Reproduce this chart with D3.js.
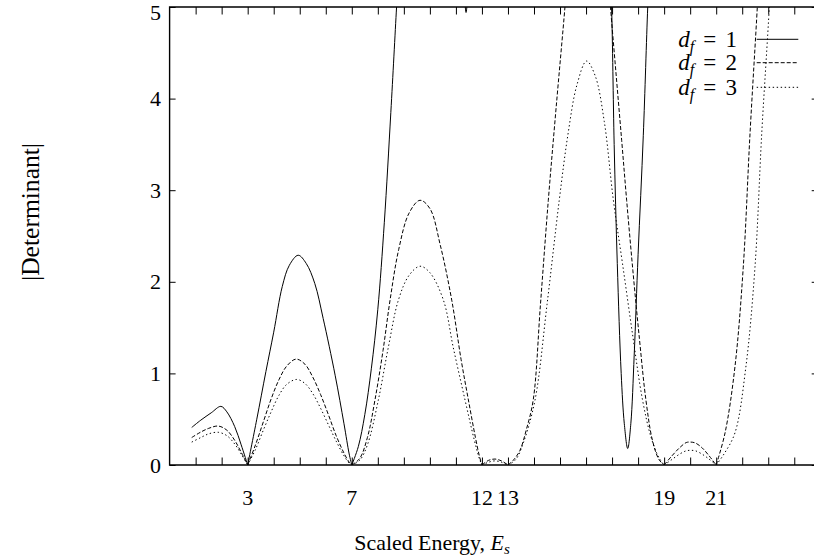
<!DOCTYPE html>
<html><head><meta charset="utf-8">
<script src="https://cdn.jsdelivr.net/npm/d3@7"></script>
<style>html,body{margin:0;padding:0;background:#fff;} svg{display:block;} text{font-family:"Liberation Serif","Times New Roman",serif;fill:#000;}</style>
</head><body>
<svg id="c" width="814" height="556"></svg>
<script>
// ---- data ----
const xTickLabels = [3, 7, 12, 13, 19, 21];
const xMinorTicks = d3.range(1, 25);
const yTicks = [0, 1, 2, 3, 4, 5];
const seriesNames = ["1", "2", "3"];

const df1E = [0.85,1.2,1.6,1.97,2.2,2.5,2.75,3.0,3.35,3.7,4.0,4.33,4.6,4.94,5.25,5.58,5.9,6.36,6.7,6.9,7.0,7.25,7.5,7.75,8.0,8.25,8.5,8.72,8.8,10,11.3,11.39,11.48,14,16.9,16.98,17.08,17.2,17.35,17.47,17.6,17.72,17.85,18.0,18.2,18.37,18.45];
const df1V = [0.41,0.49,0.57,0.64,0.58,0.42,0.22,0,0.5,1.02,1.45,1.95,2.18,2.29,2.2,1.98,1.6,0.98,0.45,0.12,0,0.2,0.55,1.05,1.7,2.65,3.85,5.0,5.4,null,5.25,4.94,5.25,null,5.5,5.0,3.5,2.2,1.0,0.45,0.18,0.45,1.2,2.3,3.6,5.0,5.5];

const df2E = [0.85,1.2,1.5,1.87,2.2,2.5,2.75,3.0,3.3,3.6,3.9,4.2,4.5,4.86,5.2,5.5,5.8,6.1,6.4,6.7,6.9,7.0,7.3,7.6,7.89,8.2,8.47,8.8,9.2,9.62,10.0,10.4,10.84,11.2,11.48,11.75,11.9,12.0,12.25,12.5,12.75,13.0,13.2,13.46,13.7,13.97,14.25,14.55,14.85,15.19,15.3,16,16.85,16.94,17.15,17.37,17.56,17.8,18.05,18.3,18.55,18.8,19.0,19.3,19.6,19.85,20.03,20.2,20.45,20.7,21.0,21.34,21.72,22.04,22.3,22.58,22.65];
const df2V = [0.30,0.36,0.40,0.425,0.38,0.27,0.14,0,0.22,0.47,0.72,0.93,1.08,1.156,1.1,0.96,0.77,0.55,0.32,0.13,0.03,0,0.07,0.3,0.71,1.25,1.8,2.35,2.75,2.89,2.8,2.4,1.8,1.15,0.71,0.3,0.1,0,0.05,0.065,0.045,0,0.05,0.16,0.38,0.71,1.76,2.89,3.9,5.0,5.4,null,5.4,5.0,4.28,3.54,2.89,2.12,1.38,0.71,0.27,0.06,0,0.1,0.19,0.245,0.25,0.24,0.19,0.11,0,0.35,1.07,2.16,3.62,5.0,5.4];

const df3E = [0.85,1.2,1.5,1.87,2.2,2.5,2.75,3.0,3.3,3.6,3.9,4.2,4.5,4.88,5.2,5.5,5.8,6.1,6.4,6.7,6.9,7.0,7.3,7.6,8.02,8.4,8.79,9.2,9.62,10.0,10.52,10.9,11.35,11.7,11.9,12.0,12.25,12.5,12.75,13.0,13.3,13.6,14.04,14.5,14.97,15.3,15.65,16.02,16.35,16.7,17.05,17.4,17.8,18.17,18.5,18.8,19.0,19.3,19.6,19.85,20.03,20.2,20.45,20.7,21.0,21.3,21.72,22.14,22.49,22.75,23.04,23.1];
const df3V = [0.25,0.30,0.34,0.357,0.32,0.23,0.12,0,0.17,0.38,0.58,0.76,0.88,0.934,0.89,0.78,0.62,0.44,0.26,0.1,0.02,0,0.05,0.22,0.71,1.28,1.8,2.07,2.17,2.1,1.8,1.28,0.71,0.28,0.07,0,0.03,0.045,0.03,0,0.06,0.25,0.71,1.75,2.89,3.6,4.15,4.41,4.25,3.75,2.89,2.2,1.4,0.71,0.3,0.08,0,0.06,0.12,0.155,0.16,0.155,0.12,0.07,0,0.12,0.35,1.07,2.16,3.62,5.0,5.4];

// ---- layout ----
const L = 169.6, R = 817.7, T = 7, B = 465;
const x = d3.scaleLinear().domain([0, 24.9]).range([L, R]);
const y = d3.scaleLinear().domain([0, 5]).range([B, T]);
const svg = d3.select("#c");
svg.append("rect").attr("width",814).attr("height",556).attr("fill","#fff");

svg.append("defs").append("clipPath").attr("id","clip")
  .append("rect").attr("x",L).attr("y",T).attr("width",R-L).attr("height",B-T);

function fitWidth(sel, w){
  const fs = +sel.attr("font-size");
  const bw = sel.node().getBBox().width;
  if (bw > 0) sel.attr("font-size", fs * w / bw);
}

// ticks: x bottom & top (inward)
const xb = d3.axisBottom(x).tickValues(xMinorTicks).tickSize(-7.5).tickFormat("");
const xt = d3.axisTop(x).tickValues(xMinorTicks).tickSize(-7.5).tickFormat("");
const yl = d3.axisLeft(y).tickValues(yTicks).tickSize(-6).tickFormat("");
const yr = d3.axisRight(y).tickValues(yTicks).tickSize(-6).tickFormat("");
[[xb,`translate(0,${B})`],[xt,`translate(0,${T})`],[yl,`translate(${L},0)`],[yr,`translate(${R},0)`]].forEach(([ax,tr])=>{
  const g = svg.append("g").attr("transform",tr).call(ax);
  g.select(".domain").remove();
  g.selectAll("line").attr("stroke","#000").attr("stroke-width",1);
});

// tick labels
svg.append("g").selectAll("text").data(xTickLabels).join("text")
  .attr("x", d=>x(d)).attr("y", 505).attr("text-anchor","middle")
  .attr("font-size", 22).text(d=>d);
svg.append("g").selectAll("text").data(yTicks).join("text")
  .attr("x", 161).attr("y", d=>Math.max(y(d)+7.5, 19.8)).attr("text-anchor","end")
  .attr("font-size", 22).text(d=>d);

// axis titles
const xt2 = svg.append("text").attr("x", 432).attr("y", 550).attr("text-anchor","middle").attr("font-size",21);
xt2.append("tspan").text("Scaled Energy, ");
xt2.append("tspan").attr("font-style","italic").text("E");
xt2.append("tspan").attr("font-style","italic").attr("font-size",15).attr("dy",4).text("s");
fitWidth(xt2, 156);
const yt = svg.append("text").attr("transform","translate(39,212) rotate(-90)").attr("text-anchor","middle")
  .attr("font-size",21).text("|Determinant|");
fitWidth(yt, 138);

// curves
const styles = [
  {dash:null},
  {dash:"4,2"},
  {dash:"1.4,2.6"}
];
const seriesData = [[df1E,df1V],[df2E,df2V],[df3E,df3V]];
const line = d3.line().x(d=>x(d[0])).y(d=>y(d[1])).curve(d3.curveCatmullRom.alpha(0.5));
function segments(E, V){
  const segs=[]; let cur=[];
  for(let i=0;i<E.length;i++){
    if(V[i]===null){ if(cur.length>1) segs.push(cur); cur=[]; continue; }
    cur.push([E[i],V[i]]);
    if(V[i]===0 && cur.length>1){ segs.push(cur); cur=[[E[i],0]]; }
  }
  if(cur.length>1) segs.push(cur);
  return segs;
}
const plot = svg.append("g").attr("clip-path","url(#clip)");
seriesData.forEach(([E,V],k)=>{
  const d = segments(E,V).map(s=>line(s)).join("");
  plot.append("path").attr("d",d).attr("fill","none").attr("stroke","#000")
    .attr("stroke-width",1).attr("stroke-dasharray",styles[k].dash);
});

// frame
svg.append("path").attr("d",`M${R},${T}H${L}V${B}H${R}`).attr("fill","none").attr("stroke","#000").attr("stroke-width",1.4);

// legend
const legY = [39.3, 62.7, 87.3];
seriesNames.forEach((n,k)=>{
  const t = svg.append("text").attr("x",737).attr("y",legY[k]+7.5).attr("text-anchor","end").attr("font-size",23);
  t.append("tspan").attr("font-style","italic").text("d");
  t.append("tspan").attr("font-style","italic").attr("font-size",16).attr("dy",5).text("f");
  t.append("tspan").attr("dy",-5).attr("xml:space","preserve").text("\u2009\u2009=\u2009\u2009" + n);
  svg.append("line").attr("x1",756.7).attr("x2",798.3).attr("y1",legY[k]).attr("y2",legY[k])
    .attr("stroke","#000").attr("stroke-width",1).attr("stroke-dasharray",styles[k].dash);
});
</script>
</body></html>
